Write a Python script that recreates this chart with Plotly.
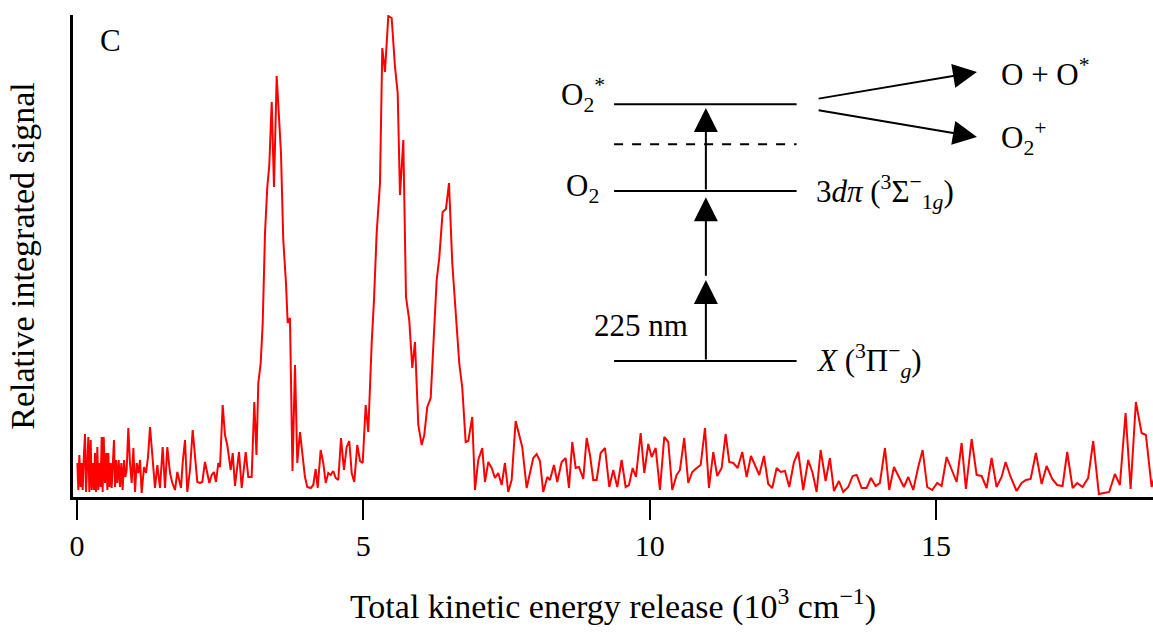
import plotly.graph_objects as go

# Total kinetic energy release (10^3 cm^-1)
energy = [
    0.006, 0.023, 0.041, 0.064, 0.082, 0.099, 0.122, 0.140, 0.157, 0.180,
    0.198, 0.215, 0.239, 0.256, 0.274, 0.297, 0.314, 0.332, 0.355, 0.372,
    0.390, 0.413, 0.431, 0.448, 0.466, 0.489, 0.512, 0.530, 0.547, 0.565,
    0.588, 0.605, 0.623, 0.646, 0.664, 0.681, 0.704, 0.728, 0.751, 0.774,
    0.797, 0.821, 0.844, 0.867, 0.896, 0.925, 0.955, 0.984, 1.013, 1.042,
    1.071, 1.100, 1.129, 1.170, 1.205, 1.240, 1.275, 1.315, 1.362, 1.403,
    1.449, 1.496, 1.537, 1.577, 1.624, 1.665, 1.711, 1.752, 1.787, 1.816,
    1.845, 1.886, 1.926, 1.973, 2.020, 2.060, 2.101, 2.148, 2.188, 2.235,
    2.276, 2.311, 2.352, 2.392, 2.427, 2.468, 2.497,
    2.544, 2.584, 2.624, 2.684, 2.719, 2.759, 2.829, 2.876, 2.946, 2.991,
    3.050, 3.096, 3.134, 3.166, 3.208, 3.243, 3.283, 3.323, 3.358, 3.400,
    3.440, 3.487, 3.527, 3.562, 3.602, 3.649, 3.679, 3.719, 3.763, 3.807,
    3.847, 3.894, 3.934, 3.981, 4.021, 4.081, 4.126, 4.168, 4.203, 4.255,
    4.301, 4.343, 4.388, 4.430, 4.475, 4.517, 4.563, 4.610, 4.662, 4.709,
    4.755, 4.797, 4.842, 4.894, 4.942, 4.989, 5.041, 5.086, 5.146, 5.186,
    5.233, 5.291, 5.331, 5.378, 5.436, 5.495, 5.553, 5.600, 5.640, 5.698,
    5.745, 5.802, 5.855, 5.902, 5.960, 6.019, 6.064, 6.117, 6.176, 6.221,
    6.281, 6.326, 6.385, 6.443, 6.496, 6.553, 6.613, 6.675, 6.728, 6.787,
    6.833, 6.902, 6.950, 7.007, 7.077, 7.124, 7.182, 7.241, 7.299, 7.356,
    7.416, 7.473, 7.531, 7.590, 7.660, 7.718, 7.775, 7.852, 7.910, 7.968,
    8.027, 8.085, 8.142, 8.212, 8.259, 8.329, 8.387, 8.463, 8.533, 8.591,
    8.649, 8.708, 8.766, 8.841, 8.900, 8.958, 9.015, 9.075, 9.144, 9.220,
    9.295, 9.365, 9.434, 9.511, 9.581, 9.639, 9.703, 9.761, 9.843, 9.906,
    9.976, 10.035, 10.105, 10.180, 10.255, 10.325, 10.395, 10.471, 10.529, 10.604,
    10.674, 10.744, 10.821, 10.891, 10.966, 11.036, 11.111, 11.180, 11.257, 11.327,
    11.390, 11.460, 11.537, 11.617, 11.694, 11.769, 11.839, 11.914, 11.996, 12.071,
    12.141, 12.218, 12.288, 12.363, 12.438, 12.520, 12.595, 12.682, 12.769, 12.846,
    12.916, 12.986, 13.073, 13.148, 13.218, 13.305, 13.381, 13.468, 13.545, 13.615,
    13.702, 13.789, 13.864, 13.946, 14.021, 14.109, 14.184, 14.266, 14.353, 14.440,
    14.516, 14.603, 14.690, 14.767, 14.847, 14.935, 15.022, 15.099, 15.186, 15.273,
    15.361, 15.448, 15.523, 15.623, 15.710, 15.797, 15.885, 15.972, 16.059, 16.146,
    16.216, 16.304, 16.408, 16.495, 16.571, 16.653, 16.745, 16.845, 16.932, 17.030,
    17.117, 17.211, 17.292, 17.386, 17.466, 17.560, 17.658, 17.746, 17.845, 17.933,
    18.025, 18.125, 18.212, 18.311, 18.399, 18.491, 18.591, 18.666, 18.766, 18.860,
]

# Relative integrated signal (arbitrary units)
signal = [
    34, 7, 42, 10, 34, 7, 44, 63, 5, 44,
    60, 5, 57, 7, 34, 7, 44, 5, 50, 7,
    34, 10, 60, 5, 60, 14, 44, 7, 44, 10,
    34, 9, 37, 57, 10, 37, 14, 37, 10, 34,
    7, 37, 20, 27, 69, 34, 14, 49, 5, 34,
    24, 37, 4, 30, 24, 40, 70, 40, 9, 32,
    9, 50, 9, 50, 24, 14, 7, 25, 17, 9,
    34, 57, 5, 27, 67, 37, 15, 14, 15, 35,
    24, 14, 22, 25, 15, 34, 30,
    92, 62, 52, 27, 44, 11, 45, 9, 45, 20,
    20, 95, 42, 114, 134, 174, 264, 310, 332, 395,
    310, 421, 380, 344, 257, 214, 174, 179, 26, 132,
    34, 65, 44, 20, 10, 9, 12, 28, 9, 47,
    34, 14, 24, 22, 26, 19, 17, 59, 27, 50,
    56, 24, 15, 52, 36, 34, 92, 65, 154, 197,
    264, 314, 449, 425, 481, 479, 430, 404, 302, 357,
    200, 177, 129, 155, 72, 52, 62, 90, 99, 150,
    217, 239, 285, 288, 314, 234, 180, 134, 109, 55,
    56, 80, 7, 37, 49, 15, 35, 29, 19, 24,
    12, 34, 5, 17, 76, 62, 50, 9, 25, 39,
    43, 36, 5, 20, 17, 32, 15, 35, 39, 9,
    55, 29, 30, 18, 59, 42, 17, 17, 44, 49,
    10, 27, 10, 37, 10, 12, 29, 20, 64, 24,
    53, 40, 49, 7, 60, 55, 7, 22, 27, 59,
    14, 25, 29, 32, 69, 9, 45, 21, 29, 63,
    35, 34, 29, 45, 20, 41, 32, 22, 41, 13,
    9, 29, 25, 26, 10, 35, 45, 7, 37, 24,
    5, 47, 16, 39, 6, 16, 5, 10, 21, 22,
    9, 9, 19, 11, 14, 49, 7, 30, 20, 10,
    20, 7, 30, 47, 10, 7, 14, 11, 40, 27,
    15, 54, 8, 58, 22, 21, 9, 39, 10, 20,
    35, 20, 6, 14, 17, 18, 44, 13, 31, 18,
    12, 11, 45, 9, 14, 10, 19, 56, 3, 4,
    5, 23, 12, 84, 8, 95, 64, 62, 10, 30,
]

x_ticks = [0, 5, 10, 15]
x_range = [-0.07, 18.79]
y_range = [0, 482]

FONT = "Liberation Serif, DejaVu Serif, serif"
BLACK = "#000000"

fig = go.Figure()
fig.add_trace(go.Scatter(
    x=energy, y=signal, mode="lines",
    line=dict(color="#ff0000", width=2),
    showlegend=False, hoverinfo="skip",
))

# ---- energy-level diagram (inset, paper coordinates) ----
lv_x0, lv_x1 = 0.501, 0.670
levels = [0.815, 0.635, 0.282]
for yl in levels:
    fig.add_shape(type="line", xref="paper", yref="paper",
                  x0=lv_x0, x1=lv_x1, y0=yl, y1=yl,
                  line=dict(color=BLACK, width=2))
fig.add_shape(type="line", xref="paper", yref="paper",
              x0=lv_x0, x1=lv_x1, y0=0.732, y1=0.732,
              line=dict(color=BLACK, width=2, dash="dash"))

arrow_x = 0.586
plot_w, plot_h = 1080, 482
vert_arrows = [(0.450, 0.282), (0.622, 0.456), (0.807, 0.635)]
for tip, tail in vert_arrows:
    fig.add_annotation(xref="paper", yref="paper", x=arrow_x, y=tip,
                       ax=0, ay=(tip - tail) * plot_h, axref="pixel", ayref="pixel",
                       showarrow=True, arrowhead=2, arrowsize=2.4, arrowwidth=2,
                       arrowcolor=BLACK, text="")

diag_arrows = [((0.837, 0.882), (0.689, 0.826)), ((0.837, 0.747), (0.689, 0.803))]
for (hx, hy), (tx, ty) in diag_arrows:
    fig.add_annotation(xref="paper", yref="paper", x=hx, y=hy,
                       ax=(tx - hx) * plot_w, ay=(hy - ty) * plot_h,
                       showarrow=True, arrowhead=2, arrowsize=2.4, arrowwidth=2,
                       arrowcolor=BLACK, text="")

tfont = dict(family=FONT, size=31, color=BLACK)
labels = [
    ("O<sub>2</sub><sup>*</sup>", 0.494, 0.833, "right"),
    ("O<sub>2</sub>", 0.489, 0.642, "right"),
    ("3<i>dπ</i> (<sup>3</sup>Σ<sup>−</sup><sub>1<i>g</i></sub>)", 0.686, 0.633, "left"),
    ("<i>X</i> (<sup>3</sup>Π<sup>−</sup><sub><i>g</i></sub>)", 0.686, 0.283, "left"),
    ("225 nm", 0.571, 0.355, "right"),
    ("O + O<sup>*</sup>", 0.857, 0.880, "left"),
    ("O<sub>2</sub><sup>+</sup>", 0.857, 0.745, "left"),
    ("C", 0.023, 0.948, "left"),
]
for txt, lx, ly, anc in labels:
    fig.add_annotation(xref="paper", yref="paper", x=lx, y=ly, text=txt,
                       showarrow=False, xanchor=anc, yanchor="middle", font=tfont)

fig.update_layout(
    width=1153, height=635,
    margin=dict(l=73, r=0, t=15, b=138, autoexpand=False),
    paper_bgcolor="white", plot_bgcolor="white",
    font=dict(family=FONT, color=BLACK, size=28),
    xaxis=dict(range=x_range, tickvals=x_ticks, ticktext=[str(v) for v in x_ticks],
               showline=True, linecolor=BLACK, linewidth=2.5, mirror=False,
               ticks="outside", ticklen=20, tickwidth=2, tickcolor=BLACK,
               tickfont=dict(family=FONT, size=30), showgrid=False, zeroline=False,
               automargin=False,
               title=dict(text="Total kinetic energy release (10<sup>3</sup> cm<sup>−1</sup>)",
                          font=dict(family=FONT, size=34), standoff=34)),
    yaxis=dict(range=y_range, showline=True, linecolor=BLACK, linewidth=2.5,
               ticks="", showticklabels=False, showgrid=False, zeroline=False,
               automargin=False,
               title=dict(text="Relative integrated signal",
                          font=dict(family=FONT, size=34), standoff=26)),
)

fig.write_html("out.html",
               config={"displayModeBar": False},
               post_script="document.body.style.margin='0';document.body.style.overflow='hidden';")
